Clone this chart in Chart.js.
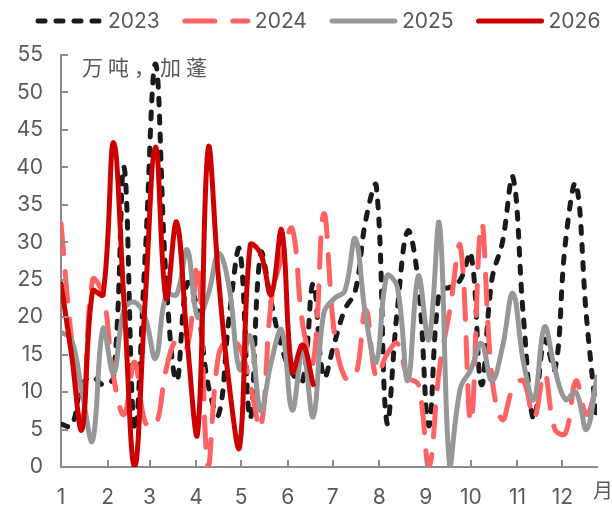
<!DOCTYPE html>
<html>
<head>
<meta charset="utf-8">
<script src="https://cdn.jsdelivr.net/npm/chart.js@4.4.1/dist/chart.umd.min.js"></script>
<style>
  html, body { margin: 0; padding: 0; background: #fff; }
</style>
</head>
<body>
<canvas id="gabonChart" width="612" height="508"></canvas>
<script>
// weekly Gabon volumes (万吨), one point per week from Jan 1
const weekStep = 7;
const monthStartDays = [0, 31, 59, 90, 120, 151, 181, 212, 243, 273, 304, 334];
const monthLabels = ['1', '2', '3', '4', '5', '6', '7', '8', '9', '10', '11', '12'];
const yearLabels = ['2023', '2024', '2025', '2026'];

const gabon2023 = [5.7, 5.5, 11, 12, 11, 12, 40, 5, 28, 53.8, 25, 11.5, 24.5, 21, 11, 7,
  20, 29, 6.5, 28.5, 22, 16, 12.5, 11.5, 24.5, 12, 16.5, 21, 23.5, 33, 37.5, 6,
  21, 31.5, 24.5, 5.5, 23.5, 24, 25, 28.5, 11, 25, 30, 38.7, 20, 6.3, 17, 13,
  30, 37.8, 20, 6];
const gabon2024 = [32.5, 17, 6, 25, 23, 12, 7, 14, 6, 5.5, 13, 17, 16, 27, 0, 15,
  17, 16, 11, 5.3, 22, 28, 31.8, 19, 14, 33.8, 18, 12, 12, 21, 12, 15,
  16.5, 12, 11, 0, 13, 21, 29.5, 6, 32.5, 12, 6.3, 10.5, 11.5, 6.5, 12.5, 5,
  4.5, 11.5, 7, 11];
const gabon2025 = [18, 17, 10, 3.5, 18.5, 12.5, 21, 22, 20, 14.5, 23, 23, 29, 20, 23, 28.5,
  24, 13, 17.5, 7.5, 14, 18.3, 7.6, 15.5, 6.7, 20.5, 22.5, 23.5, 30.5, 20, 14, 25.5,
  24, 11.5, 25.5, 17, 32.5, 0, 10.5, 13, 16.5, 11.5, 16, 23.2, 14, 9, 18.7, 13,
  9, 10, 5, 12];
const gabon2026 = [24.5, 15, 5, 23.5, 23, 43.3, 22, 0, 22, 42.7, 22.5, 32.7, 17, 4.5, 42.5, 25,
  11, 2.7, 29.6, 28.5, 23, 31.6, 12.7, 16.3, 11];

function weekly(values) {
  return values.map((v, i) => ({ x: i * weekStep, y: v }));
}

const axisGrey = '#8c8c8c';
const textGrey = '#595959';
const numFont = 'Inter, "DejaVu Sans", sans-serif';
const cjkFont = '"Noto Sans CJK SC", sans-serif';

// small inward tick marks on both axes, like the office chart style
const innerTicks = {
  id: 'innerTicks',
  afterDraw(chart) {
    const { ctx, chartArea, scales } = chart;
    ctx.save();
    ctx.strokeStyle = axisGrey;
    ctx.lineWidth = 2;
    ctx.beginPath();
    scales.x.ticks.forEach(t => {
      const px = Math.round(scales.x.getPixelForValue(t.value));
      if (px <= chartArea.left + 1) return;
      ctx.moveTo(px, chartArea.bottom);
      ctx.lineTo(px, chartArea.bottom - 7);
    });
    scales.y.ticks.forEach(t => {
      const py = Math.round(scales.y.getPixelForValue(t.value));
      if (py >= chartArea.bottom - 1) return;
      ctx.moveTo(chartArea.left, py);
      ctx.lineTo(chartArea.left + 7, py);
    });
    ctx.stroke();

    // unit note and the month marker at the end of the x axis
    ctx.fillStyle = textGrey;
    ctx.textBaseline = 'middle';
    ctx.font = '21px ' + cjkFont;
    ctx.letterSpacing = '5px';
    ctx.fillText('万吨，加蓬', chartArea.left + 21, chartArea.top + 12);
    ctx.letterSpacing = '0px';
    ctx.font = '20px ' + cjkFont;
    ctx.fillText('月', chartArea.right - 4, chartArea.bottom + 23);
    ctx.restore();
  }
};

// legend drawn as line samples followed by the year
const lineLegend = {
  id: 'lineLegend',
  afterDraw(chart) {
    const ctx = chart.ctx;
    const lineLen = 63, textGap = 7, itemGap = 25, y = 21;
    let x = 38;
    ctx.save();
    ctx.font = '21px ' + numFont;
    ctx.textBaseline = 'middle';
    chart.data.datasets.forEach(ds => {
      ctx.strokeStyle = ds.borderColor;
      ctx.lineWidth = ds.borderWidth;
      ctx.lineCap = 'round';
      ctx.setLineDash(ds.borderDash || []);
      ctx.beginPath();
      ctx.moveTo(x, y);
      ctx.lineTo(x + lineLen, y);
      ctx.stroke();
      x += lineLen + textGap;
      ctx.fillStyle = textGrey;
      ctx.fillText(ds.label, x, y + 1);
      x += ctx.measureText(ds.label).width + itemGap;
    });
    ctx.restore();
  }
};

const seriesStyle = {
  pointRadius: 0,
  borderWidth: 5,
  tension: 0.4,
  fill: false,
  borderCapStyle: 'round',
  borderJoinStyle: 'round'
};

new Chart(document.getElementById('gabonChart'), {
  type: 'line',
  data: {
    datasets: [
      Object.assign({ label: yearLabels[0], data: weekly(gabon2023), borderColor: '#1a1a1a', borderDash: [7, 11], order: 4 }, seriesStyle),
      Object.assign({ label: yearLabels[1], data: weekly(gabon2024), borderColor: '#ff6262', borderDash: [30, 18], order: 3 }, seriesStyle),
      Object.assign({ label: yearLabels[2], data: weekly(gabon2025), borderColor: '#979797', order: 2 }, seriesStyle),
      Object.assign({ label: yearLabels[3], data: weekly(gabon2026), borderColor: '#cc0000', order: 1 }, seriesStyle)
    ]
  },
  options: {
    responsive: false,
    animation: false,
    devicePixelRatio: 1,
    layout: { padding: { top: 55, right: 15, bottom: 0, left: 0 } },
    plugins: {
      legend: { display: false },
      tooltip: { enabled: false }
    },
    scales: {
      x: {
        type: 'linear',
        min: 0,
        max: 51 * weekStep,
        afterBuildTicks: scale => {
          scale.ticks = monthStartDays.map(d => ({ value: d }));
        },
        afterFit: scale => { scale.height = 41; },
        grid: { display: false },
        border: { color: axisGrey, width: 2 },
        ticks: {
          autoSkip: false,
          maxRotation: 0,
          padding: 10,
          color: textGrey,
          font: { family: numFont, size: 21 },
          callback: v => monthLabels[monthStartDays.indexOf(v)]
        }
      },
      y: {
        min: 0,
        max: 55,
        afterFit: scale => { scale.width = 61; },
        grid: { display: false },
        border: { color: axisGrey, width: 2 },
        ticks: {
          stepSize: 5,
          padding: 10,
          color: textGrey,
          font: { family: numFont, size: 21 }
        }
      }
    }
  },
  plugins: [innerTicks, lineLegend]
});
</script>
</body>
</html>
